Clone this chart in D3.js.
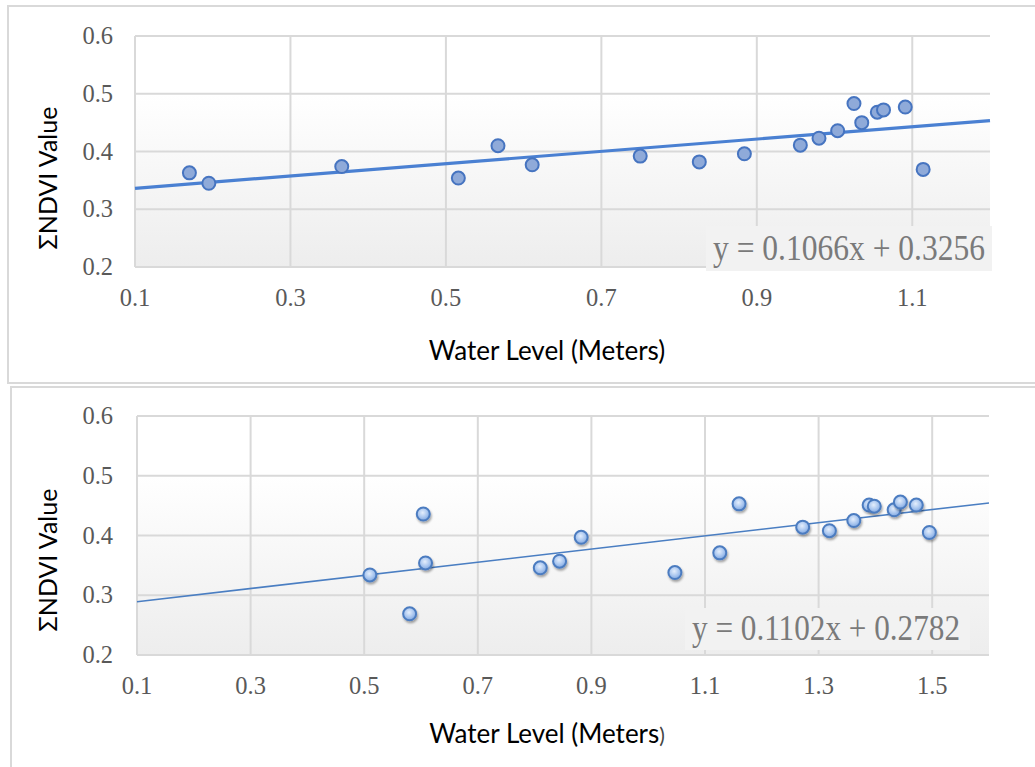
<!DOCTYPE html>
<html lang="en">
<head>
<meta charset="utf-8">
<title>NDVI vs Water Level</title>
<script src="https://d3js.org/d3.v7.min.js"></script>
<style>
  body { margin: 0; background: #fff; }
  .tick-label { font-family: "Liberation Serif", "DejaVu Serif", serif; font-size: 24.5px; fill: #595959; }
  .axis-title { font-family: Lato, "Noto Sans", sans-serif; font-size: 26px; fill: #000; }
  .eq { font-family: "Liberation Serif", serif; font-size: 35px; fill: #7a7a7a; }
</style>
</head>
<body>
<div id="chart"></div>
<script>
// data
const yTicks = [0.2, 0.3, 0.4, 0.5, 0.6];
const topXTicks = [0.1, 0.3, 0.5, 0.7, 0.9, 1.1];
const bottomXTicks = [0.1, 0.3, 0.5, 0.7, 0.9, 1.1, 1.3, 1.5];

const topWater = [0.170, 0.195, 0.366, 0.516, 0.567, 0.611, 0.750, 0.826, 0.884,
  0.956, 0.980, 1.004, 1.025, 1.035, 1.055, 1.063, 1.091, 1.114];
const topNdvi = [0.363, 0.345, 0.374, 0.354, 0.410, 0.377, 0.392, 0.382, 0.396,
  0.411, 0.423, 0.436, 0.483, 0.450, 0.468, 0.472, 0.477, 0.369];

const bottomWater = [0.510, 0.604, 0.608, 0.580, 0.810, 0.844, 0.882, 1.047, 1.126,
  1.160, 1.272, 1.319, 1.362, 1.389, 1.398, 1.433, 1.444, 1.472, 1.495];
const bottomNdvi = [0.334, 0.436, 0.354, 0.269, 0.346, 0.357, 0.397, 0.338, 0.371,
  0.453, 0.414, 0.408, 0.425, 0.451, 0.449, 0.443, 0.456, 0.451, 0.405];

const topFit = [0.1066, 0.3256];     // slope, intercept
const bottomFit = [0.1102, 0.2782];
const topEquation = "y = 0.1066x + 0.3256";
const bottomEquation = "y = 0.1102x + 0.2782";

const svg = d3.select("#chart").append("svg")
    .attr("width", 1035)
    .attr("height", 767);

const defs = svg.append("defs");
const bg = defs.append("linearGradient").attr("id", "plotBg")
    .attr("x1", 0).attr("y1", 0).attr("x2", 0).attr("y2", 1);
bg.append("stop").attr("offset", "0").attr("stop-color", "#ffffff");
bg.append("stop").attr("offset", "0.25").attr("stop-color", "#ffffff");
bg.append("stop").attr("offset", "1").attr("stop-color", "#ededed");

const gloss = defs.append("radialGradient").attr("id", "gloss")
    .attr("cx", "0.45").attr("cy", "0.4").attr("r", "0.6");
gloss.append("stop").attr("offset", "0").attr("stop-color", "#e4eefc");
gloss.append("stop").attr("offset", "0.6").attr("stop-color", "#a9c6ef");
gloss.append("stop").attr("offset", "1").attr("stop-color", "#7fa6e0");

const shadow = defs.append("filter").attr("id", "shadow")
    .attr("x", "-50%").attr("y", "-50%").attr("width", "200%").attr("height", "200%");
shadow.append("feDropShadow").attr("dx", 1).attr("dy", 2).attr("stdDeviation", 1.2)
    .attr("flood-color", "#000").attr("flood-opacity", 0.35);

// panel frames
svg.append("rect").attr("x", 8).attr("y", 6).attr("width", 1040).attr("height", 377)
    .attr("fill", "none").attr("stroke", "#d9d9d9").attr("stroke-width", 2);
svg.append("rect").attr("x", 11).attr("y", 387).attr("width", 1040).attr("height", 400)
    .attr("fill", "none").attr("stroke", "#d9d9d9").attr("stroke-width", 2);

function drawPanel(p) {
  const g = svg.append("g");
  const x = d3.scaleLinear().domain(p.xDomain).range([p.left, p.right]);
  const y = d3.scaleLinear().domain([0.2, 0.6]).range([p.bottom, p.top]);

  g.append("rect")
      .attr("x", p.left).attr("y", p.top)
      .attr("width", p.right - p.left).attr("height", p.bottom - p.top)
      .attr("fill", "url(#plotBg)");

  // gridlines
  g.selectAll(".hgrid").data(yTicks).enter().append("line")
      .attr("x1", p.left).attr("x2", p.right)
      .attr("y1", d => y(d)).attr("y2", d => y(d))
      .attr("stroke", "#d9d9d9").attr("stroke-width", 2);
  g.selectAll(".vgrid").data(p.xTicks).enter().append("line")
      .attr("x1", d => x(d)).attr("x2", d => x(d))
      .attr("y1", p.top).attr("y2", p.bottom)
      .attr("stroke", "#d9d9d9").attr("stroke-width", 2);

  // tick labels
  g.selectAll(".ylab").data(yTicks).enter().append("text")
      .attr("class", "tick-label")
      .attr("x", 113).attr("y", d => y(d) + 8)
      .attr("text-anchor", "end")
      .text(d => d.toFixed(1));
  g.selectAll(".xlab").data(p.xTicks).enter().append("text")
      .attr("class", "tick-label")
      .attr("x", d => x(d)).attr("y", p.xLabelY)
      .attr("text-anchor", "middle")
      .text(d => d.toFixed(1));

  // titles
  const xt = g.append("text").attr("class", "axis-title")
      .attr("x", 547).attr("y", p.xTitleY).attr("text-anchor", "middle");
  xt.append("tspan").text("Water Level (Meters");
  xt.append("tspan").style("font-size", p.smallParen ? "21px" : null)
      .style("fill", p.smallParen ? "#444" : null).text(")");
  g.append("text").attr("class", "axis-title")
      .style("font-size", "25px")
      .attr("transform", "translate(57," + p.yTitleY + ") rotate(-90)")
      .attr("text-anchor", "middle")
      .text("\u03a3NDVI Value");

  // trendline
  const fx = p.xDomain;
  g.append("line")
      .attr("x1", x(fx[0])).attr("y1", y(p.fit[0] * fx[0] + p.fit[1]))
      .attr("x2", x(fx[1])).attr("y2", y(p.fit[0] * fx[1] + p.fit[1]))
      .attr("stroke", p.lineColor).attr("stroke-width", p.lineWidth);

  // points
  g.selectAll(".pt").data(p.xs).enter().append("circle")
      .attr("cx", d => x(d)).attr("cy", (d, i) => y(p.ys[i]))
      .attr("r", 6.5)
      .attr("fill", p.pointFill).attr("stroke", p.pointStroke).attr("stroke-width", 2)
      .attr("filter", p.shadow ? "url(#shadow)" : null);

  // equation label
  g.append("rect").attr("x", p.eqBox[0]).attr("y", p.eqBox[1])
      .attr("width", p.eqBox[2]).attr("height", p.eqBox[3])
      .attr("fill", "#f2f2f2");
  g.append("text").attr("class", "eq")
      .attr("x", p.eqBox[0] + 7).attr("y", p.eqBaseline)
      .attr("textLength", p.eqLen).attr("lengthAdjust", "spacingAndGlyphs")
      .text(p.equation);
}

drawPanel({
  left: 135, right: 990, top: 36, bottom: 267,
  xDomain: [0.1, 1.2], xTicks: topXTicks,
  xLabelY: 306, xTitleY: 360, yTitleY: 178,
  xs: topWater, ys: topNdvi, fit: topFit,
  lineColor: "#4a80d2", lineWidth: 3.2,
  pointFill: "#8faad9", pointStroke: "#4674c0", shadow: false,
  eqBox: [706, 226, 286, 45], eqBaseline: 260, eqLen: 272, equation: topEquation
});

drawPanel({
  left: 137, right: 989, top: 416, bottom: 655,
  xDomain: [0.1, 1.6], xTicks: bottomXTicks,
  xLabelY: 694, xTitleY: 743, yTitleY: 560, smallParen: true,
  xs: bottomWater, ys: bottomNdvi, fit: bottomFit,
  lineColor: "#4a7ec2", lineWidth: 1.6,
  pointFill: "url(#gloss)", pointStroke: "#4c7cc0", shadow: true,
  eqBox: [685, 608, 285, 42], eqBaseline: 640, eqLen: 268, equation: bottomEquation
});
</script>
</body>
</html>
